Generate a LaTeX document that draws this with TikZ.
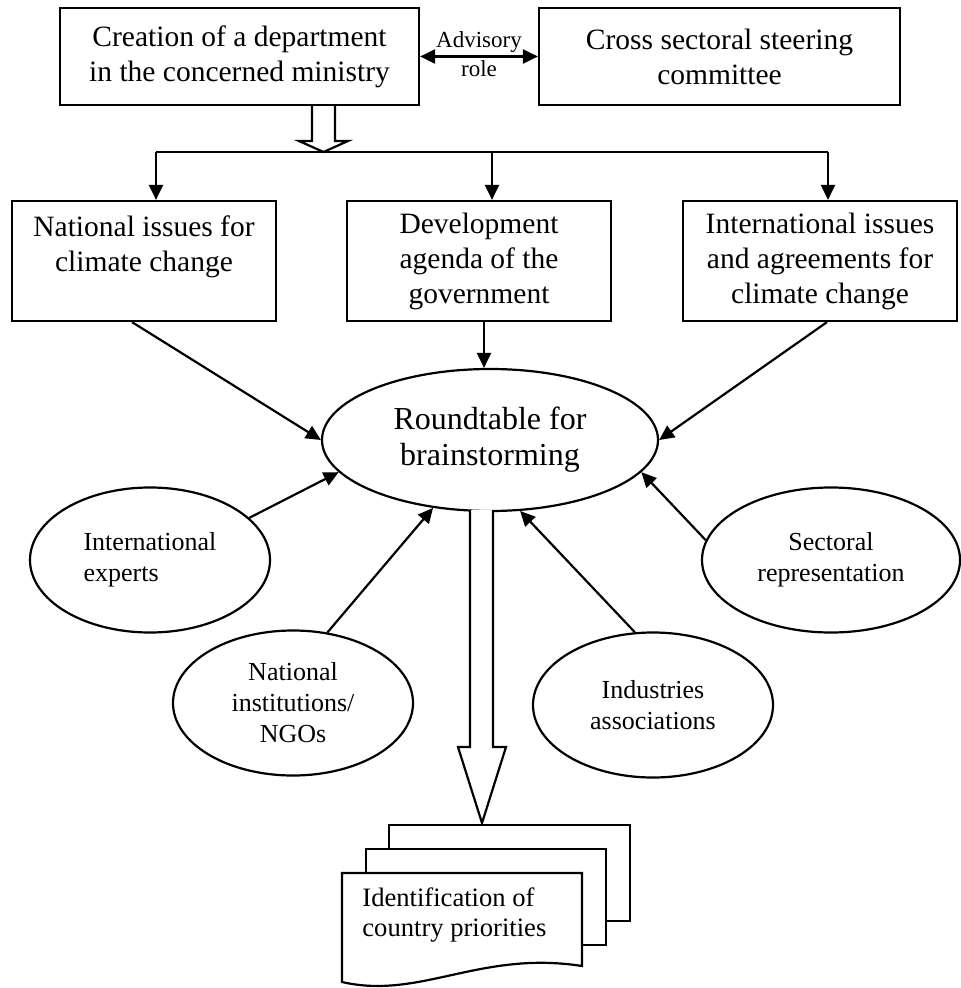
\documentclass[tikz,border=0pt]{standalone}
\usepackage{fontspec}
\setmainfont{Liberation Serif}
\usepackage{tikz}
\usetikzlibrary{shapes,arrows,positioning,calc,arrows.meta}

\begin{document}
\begin{tikzpicture}[x=0.5pt, y=-0.5pt,
    box/.style={draw, line width=1.1pt, align=center, inner sep=0pt, font=\fontsize{14.75}{17.5}\selectfont},
    oval/.style={draw, ellipse, line width=1.1pt, align=center, inner sep=0pt, font=\fontsize{13}{15.5}\selectfont},
    arr/.style={-{Triangle[length=7.5pt,width=7pt]}, line width=1.1pt},
    arrtwo/.style={{Triangle[length=7.5pt,width=7pt]}-{Triangle[length=7.5pt,width=7pt]}, line width=1.1pt}]
    \useasboundingbox (0,0) rectangle (961,988);

    % Top row
    \node[box, minimum width=179.5pt, minimum height=48.5pt] (dept) at (239.5,56.5) {Creation of a department\\in the concerned ministry};
    \node[box, minimum width=180.5pt, minimum height=48.5pt] (cross) at (719.5,56.5) {Cross sectoral steering\\committee};
    \draw[arrtwo] (dept.east) -- (cross.west)
        node[midway, above, inner sep=1.5pt, font=\fontsize{11.5}{13}\selectfont] (adv) {Advisory}
        node[midway, below, inner sep=1.5pt, font=\fontsize{11.5}{13}\selectfont] (role) {role};

    % Hollow arrow down to the bus
    \draw[line width=1.1pt] (312,105) -- (312,141) -- (299,141) -- (323.5,152) -- (348,141) -- (335,141) -- (335,105);
    \coordinate (busL) at (156,152);
    \coordinate (busM) at (492,152);
    \coordinate (busR) at (828,152);
    \draw[line width=1.1pt] (busL) -- (busR);

    % Second row
    \node[box, minimum width=132pt, minimum height=60pt] (natl) at (144,261) {National issues for\\climate change\\~};
    \node[box, minimum width=132pt, minimum height=60pt] (devt) at (479,261) {Development\\agenda of the\\government};
    \node[box, minimum width=137pt, minimum height=60pt] (intl) at (820,261) {International issues\\and agreements for\\climate change};
    \draw[arr] (busL) -- (busL |- natl.north);
    \draw[arr] (busM) -- (busM |- devt.north);
    \draw[arr] (busR) -- (busR |- intl.north);

    % Roundtable
    \node[oval, minimum width=168pt, minimum height=71pt, font=\fontsize{16}{18}\selectfont] (round) at (490,440) {Roundtable for\\brainstorming};
    \draw[arr] ([xshift=-6pt]natl.south) -- (round.west);
    \draw[arr] ([xshift=2.5pt]devt.south) -- ([xshift=2.5pt]devt.south |- round.north);
    \draw[arr] ([xshift=3.5pt]intl.south) -- (round.east);

    % Participants
    \node[oval, minimum width=120pt, minimum height=72.5pt, align=left] (experts) at (150,560) {International\\experts};
    \node[oval, minimum width=120pt, minimum height=72.5pt] (ngo) at (293,703) {National\\institutions/\\NGOs};
    \node[oval, minimum width=120pt, minimum height=72.5pt] (industry) at (653,705) {Industries\\associations};
    \node[oval, minimum width=129pt, minimum height=72.5pt] (sector) at (831,560) {Sectoral\\representation};
    \draw[arr] (experts.23) -- (round.192);
    \draw[arr] (ngo.64) -- (round.230);
    \draw[arr] (industry.104) -- (round.293);
    \draw[arr] (sector.171) -- (round.348);

    % Big hollow arrow
    \draw[line width=1.1pt, fill=white] (470,510) -- (470,747) -- (458,747) -- (482,823) -- (506,747) -- (493,747) -- (493,510);

    % Stack of documents
    \draw[line width=1.1pt, fill=white] (389,825) rectangle (630,921);
    \draw[line width=1.1pt, fill=white] (366,849) rectangle (606,945);
    \draw[line width=1.1pt, fill=white] (342,873) -- (582,873) -- (582,966) .. controls (480,950) and (420,1000) .. (342,982) -- cycle;
    \node[anchor=west, align=left, inner sep=0pt, font=\fontsize{13.3}{15}\selectfont] (prio) at (362,915) {Identification of\\country priorities};
\end{tikzpicture}
\end{document}
